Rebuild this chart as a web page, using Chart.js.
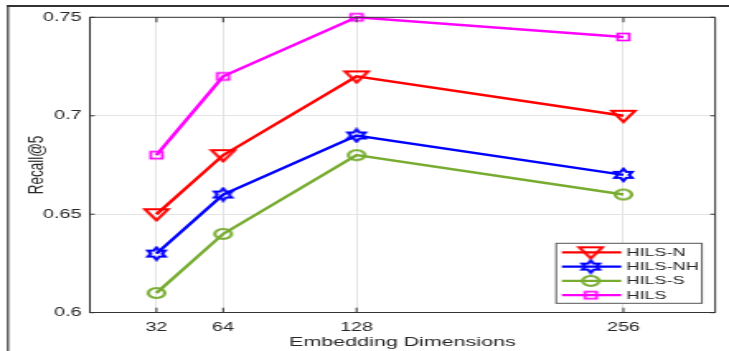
<!DOCTYPE html>
<html>
<head>
<meta charset="utf-8">
<script src="https://cdn.jsdelivr.net/npm/chart.js@4.4.1/dist/chart.umd.min.js"></script>
<style>
  html, body { margin: 0; padding: 0; background: #fff; overflow: hidden; }
  #wrap { width: 729px; height: 351px; position: relative; overflow: hidden; }
  /* the reference figure is stretched sideways, so the canvas is too */
  #chart { position: absolute; left: 0; top: 0; transform: scaleX(1.6493); transform-origin: 0 0; }
</style>
</head>
<body>
<div id="wrap"><canvas id="chart" width="442" height="351"></canvas></div>
<script>
const dims = [32, 64, 128, 256];
const recallN = [0.65, 0.68, 0.72, 0.70];
const recallNH = [0.63, 0.66, 0.69, 0.67];
const recallS = [0.61, 0.64, 0.68, 0.66];
const recallHILS = [0.68, 0.72, 0.75, 0.74];
const yTicks = [0.6, 0.65, 0.7, 0.75];
const seriesNames = ['HILS-N', 'HILS-NH', 'HILS-S', 'HILS'];
const seriesColors = ['#ff0000', '#0000ff', '#77ac30', '#ff00ff'];

const FONT = '"Liberation Sans", Arial, sans-serif';
const TEXT = '#262626';

// --- marker images (MATLAB style, hollow) ---
function markerCanvas(w, h, draw) {
    const c = document.createElement('canvas');
    c.width = w;
    c.height = h;
    const ctx = c.getContext('2d');
    ctx.translate(w / 2, h / 2);
    draw(ctx);
    return c;
}

const triDown = markerCanvas(18, 16, ctx => {
    ctx.strokeStyle = seriesColors[0];
    ctx.lineWidth = 2.1;
    ctx.beginPath();
    ctx.moveTo(-7, -5);
    ctx.lineTo(7, -5);
    ctx.lineTo(0, 6);
    ctx.closePath();
    ctx.stroke();
});

const hexagram = markerCanvas(16, 16, ctx => {
    ctx.strokeStyle = seriesColors[1];
    ctx.lineWidth = 2.1;
    ctx.beginPath();
    for (let i = 0; i < 12; i++) {
        const r = i % 2 === 0 ? 6 : 6 / Math.sqrt(3);
        const a = -Math.PI / 2 + i * Math.PI / 6;
        const px = r * Math.cos(a), py = r * Math.sin(a);
        if (i === 0) ctx.moveTo(px, py); else ctx.lineTo(px, py);
    }
    ctx.closePath();
    ctx.stroke();
});

const ring = markerCanvas(16, 16, ctx => {
    ctx.strokeStyle = seriesColors[2];
    ctx.lineWidth = 2.1;
    ctx.beginPath();
    ctx.arc(0, 0, 5, 0, Math.PI * 2);
    ctx.stroke();
});

const square = markerCanvas(12, 12, ctx => {
    ctx.strokeStyle = seriesColors[3];
    ctx.lineWidth = 1.7;
    ctx.strokeRect(-3.5, -3.5, 7, 7);
});

const markers = [triDown, hexagram, ring, square];
const seriesValues = [recallN, recallNH, recallS, recallHILS];

// --- box, inward ticks, outer frame and legend ---
const matlabAxes = {
    id: 'matlabAxes',
    afterDraw(chart) {
        const { ctx, chartArea: { left, right, top, bottom } } = chart;
        const xs = chart.scales.x, ys = chart.scales.y;
        ctx.save();

        // top / right box lines
        ctx.strokeStyle = '#333';
        ctx.lineWidth = 1;
        ctx.beginPath();
        ctx.moveTo(left, top); ctx.lineTo(right, top);
        ctx.moveTo(right, top); ctx.lineTo(right, bottom);
        ctx.stroke();

        // inward ticks
        ctx.beginPath();
        dims.forEach(v => {
            const px = xs.getPixelForValue(v);
            ctx.moveTo(px, bottom); ctx.lineTo(px, bottom - 5);
            ctx.moveTo(px, top); ctx.lineTo(px, top + 5);
        });
        yTicks.forEach(v => {
            const py = ys.getPixelForValue(v);
            ctx.moveTo(left, py); ctx.lineTo(left + 3, py);
            ctx.moveTo(right, py); ctx.lineTo(right - 3, py);
        });
        ctx.stroke();

        // outer figure frame
        ctx.strokeStyle = '#333';
        ctx.lineWidth = 2;
        ctx.beginPath();
        ctx.moveTo(4.2, 6); ctx.lineTo(chart.width, 6);
        ctx.stroke();
        ctx.lineWidth = 1.2;
        ctx.beginPath();
        ctx.moveTo(4.85, 5); ctx.lineTo(4.85, chart.height);
        ctx.stroke();

        // legend
        const bw = 88.4, bh = 60;
        const bx = right - 8 - bw, by = bottom - 9.4 - bh;
        ctx.fillStyle = '#fff';
        ctx.fillRect(bx, by, bw, bh);
        ctx.strokeStyle = '#555';
        ctx.lineWidth = 1;
        ctx.strokeRect(bx, by, bw, bh);
        ctx.font = `11px ${FONT}`;
        ctx.textBaseline = 'middle';
        ctx.textAlign = 'left';
        seriesNames.forEach((name, i) => {
            const cy = by + 9 + i * 14.3;
            ctx.strokeStyle = seriesColors[i];
            ctx.lineWidth = 2.2;
            ctx.beginPath();
            ctx.moveTo(bx + 3.5, cy); ctx.lineTo(bx + 39.5, cy);
            ctx.stroke();
            const m = markers[i];
            ctx.drawImage(m, bx + 21 - m.width / 2, cy - m.height / 2);
            ctx.fillStyle = TEXT;
            ctx.fillText(name, bx + 42.5, cy + 0.5);
        });

        ctx.restore();
    }
};

const datasets = seriesNames.map((name, i) => ({
    label: name,
    data: dims.map((d, j) => ({ x: d, y: seriesValues[i][j] })),
    borderColor: seriesColors[i],
    backgroundColor: seriesColors[i],
    borderWidth: 2.4,
    pointStyle: markers[i],
    pointRadius: 6,
    pointHoverRadius: 6,
    tension: 0,
    fill: false,
    clip: false
}));

new Chart(document.getElementById('chart'), {
    type: 'line',
    data: { datasets },
    plugins: [matlabAxes],
    options: {
        responsive: false,
        animation: false,
        devicePixelRatio: 1,
        layout: { padding: { left: 0, right: 5, top: 17.3, bottom: 0 } },
        plugins: { legend: { display: false }, tooltip: { enabled: false } },
        scales: {
            x: {
                type: 'linear',
                min: 0,
                max: 300,
                afterBuildTicks: s => { s.ticks = dims.map(v => ({ value: v })); },
                afterFit: s => { s.height = 38.3; },
                ticks: {
                    color: TEXT,
                    font: { family: FONT, size: 12 },
                    padding: 8,
                    autoSkip: false,
                    maxRotation: 0,
                    callback: v => String(v)
                },
                grid: { color: '#e4e4e4', lineWidth: 1, drawTicks: false },
                border: { color: '#333', width: 1 },
                title: {
                    display: true,
                    text: 'Embedding Dimensions',
                    color: TEXT,
                    font: { family: FONT, size: 13 },
                    padding: { top: 0, bottom: 1 }
                }
            },
            y: {
                type: 'linear',
                min: 0.6,
                max: 0.75,
                afterBuildTicks: s => { s.ticks = yTicks.map(v => ({ value: v })); },
                afterFit: s => { s.width = 54.4; },
                ticks: {
                    color: TEXT,
                    font: { family: FONT, size: 12 },
                    padding: 5,
                    callback: v => String(v)
                },
                grid: { color: '#e4e4e4', lineWidth: 1, drawTicks: false },
                border: { color: '#333', width: 1 },
                title: {
                    display: true,
                    text: 'Recall@5',
                    color: TEXT,
                    font: { family: FONT, size: 13.5 },
                    padding: { top: 14, bottom: 0 }
                }
            }
        }
    }
});
</script>
</body>
</html>
